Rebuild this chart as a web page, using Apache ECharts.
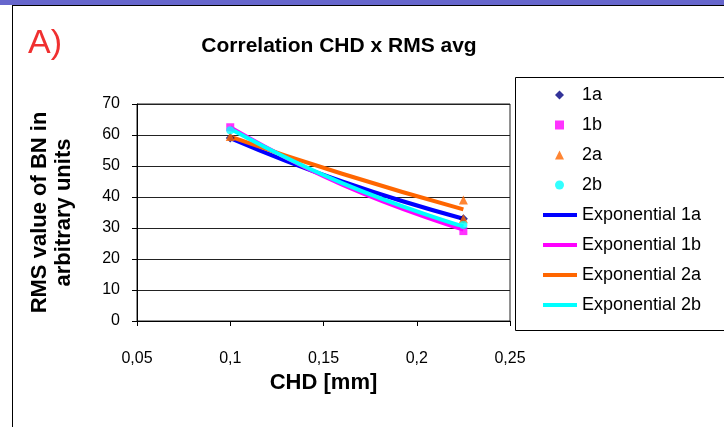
<!DOCTYPE html>
<html>
<head>
<meta charset="utf-8">
<script src="https://cdn.jsdelivr.net/npm/echarts@6/dist/echarts.min.js"></script>
<style>
  html, body { margin:0; padding:0; background:#fff; }
  #band { position:absolute; left:0; top:0; width:724px; height:5px; background:#6666cc; }
  #frame { position:absolute; left:12px; top:5px; width:720px; height:430px; border-left:1px solid #000; border-top:1px solid #000; }
  #chart { position:absolute; left:0; top:0; width:724px; height:427px; }
</style>
</head>
<body>
<div id="band"></div>
<div id="frame"></div>
<div id="chart"></div>
<script>
// Measured points (CHD [mm], RMS value)
const s1a = [[0.1, 59], [0.225, 33]];
const s1b = [[0.1, 62.5], [0.225, 29]];
const s2a = [[0.1, 59.5], [0.225, 39], [0.225, 33]];
const s2b = [[0.1, 61.5], [0.225, 31]];
// Exponential trend lines
const t1a = [[0.1, 59], [0.16, 45], [0.225, 33]];
const t1b = [[0.1, 62.5], [0.16, 44], [0.225, 29.5]];
const t2a = [[0.1, 59.5], [0.16, 47.5], [0.225, 36]];
const t2b = [[0.1, 62], [0.16, 44.5], [0.225, 30.5]];
const xTicks = [0.05, 0.1, 0.15, 0.2, 0.25];
const yTicks = [0, 10, 20, 30, 40, 50, 60, 70];
const pointNames = ['1a', '1b', '2a', '2b'];
const trendNames = ['Exponential 1a', 'Exponential 1b', 'Exponential 2a', 'Exponential 2b'];

const FONT = '"Liberation Sans", Arial, sans-serif';
const chart = echarts.init(document.getElementById('chart'));

function scatter(name, data, symbol, color, size) {
  return { name, type:'scatter', data, symbol, symbolSize:size, itemStyle:{color}, z:3 };
}
function trend(name, data, color) {
  return { name, type:'line', data, smooth:true, symbol:'none', showSymbol:false,
           lineStyle:{color, width:4}, itemStyle:{color}, z:2 };
}

const legendText = {fontFamily:FONT, fontSize:18, color:'#000', lineHeight:18};

chart.setOption({
  animation:false,
  textStyle:{fontFamily:FONT},
  title:[
    {text:'Correlation CHD x RMS avg', left:334, top:31, textAlign:'center',
     textStyle:{fontFamily:FONT, fontWeight:'bold', fontSize:21, color:'#000'}},
    {text:'A)', left:23, top:22, textStyle:{fontFamily:FONT, fontWeight:'normal', fontSize:34, color:'#f03030'}}
  ],
  grid:{left:137, right:214, top:104, bottom:106, show:true, borderColor:'#222', borderWidth:1, backgroundColor:'transparent'},
  xAxis:{
    type:'value', min:xTicks[0], max:xTicks[xTicks.length-1], interval:0.05,
    name:'CHD [mm]', nameLocation:'middle', nameGap:51,
    nameTextStyle:{fontFamily:FONT, fontWeight:'bold', fontSize:22, color:'#000'},
    axisLine:{lineStyle:{color:'#000', width:1}},
    axisTick:{show:true, length:5, lineStyle:{color:'#000'}},
    splitLine:{show:false},
    axisLabel:{color:'#000', fontSize:16, margin:30,
      formatter:v => String(Math.round(v*100)/100).replace('.', ',')}
  },
  yAxis:{
    type:'value', min:yTicks[0], max:yTicks[yTicks.length-1], interval:10,
    name:'RMS value of BN in\narbitrary units', nameLocation:'middle', nameGap:61, nameRotate:90,
    nameTextStyle:{fontFamily:FONT, fontWeight:'bold', fontSize:22, color:'#000', lineHeight:24, align:'center'},
    axisLine:{lineStyle:{color:'#000', width:1}},
    axisTick:{show:true, length:5, lineStyle:{color:'#000'}},
    splitLine:{show:true, lineStyle:{color:'#222', width:1}},
    axisLabel:{color:'#000', fontSize:16, margin:17}
  },
  legend:[
    {
      orient:'vertical', left:555, top:86, padding:0, itemWidth:9, itemHeight:9, itemGap:12,
      textStyle:Object.assign({padding:[0,0,0,13]}, legendText),
      data:[
        {name:pointNames[0], icon:'diamond'}, {name:pointNames[1], icon:'rect'},
        {name:pointNames[2], icon:'triangle'}, {name:pointNames[3], icon:'circle'}
      ]
    },
    {
      orient:'vertical', left:543, top:206, padding:0, itemWidth:34, itemHeight:4, itemGap:12,
      textStyle:legendText,
      data:trendNames.map(n => ({name:n, icon:'rect'}))
    }
  ],
  graphic:[{type:'rect', shape:{x:515.5, y:77.5, width:220, height:253}, style:{fill:'#fff', stroke:'#000', lineWidth:1}, z:-1, silent:true}],
  series:[
    trend(trendNames[0], t1a, '#0000ff'),
    trend(trendNames[1], t1b, '#ff00ff'),
    trend(trendNames[2], t2a, '#ff6600'),
    trend(trendNames[3], t2b, '#00ffff'),
    scatter(pointNames[0], s1a, 'diamond', '#000080', 9),
    scatter(pointNames[1], s1b, 'rect', '#ff00ff', 8),
    scatter(pointNames[2], s2a, 'triangle', '#ff6600', 9),
    scatter(pointNames[3], s2b, 'circle', '#00ffff', 8)
  ]
});
</script>
</body>
</html>
